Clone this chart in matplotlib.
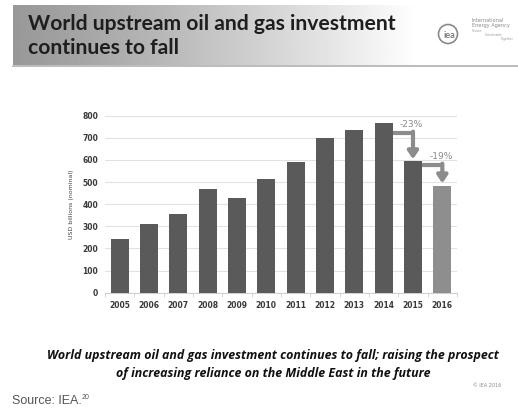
import numpy as np
import matplotlib
matplotlib.use("Agg")
import matplotlib.pyplot as plt
from matplotlib.patches import Circle

# data
years = ["2005", "2006", "2007", "2008", "2009", "2010",
         "2011", "2012", "2013", "2014", "2015", "2016"]
investment = [243, 312, 356, 468, 430, 514, 590, 700, 736, 766, 593, 484]
changes = ["-23%", "-19%"]
y_ticks = [0, 100, 200, 300, 400, 500, 600, 700, 800]

W, H = 518, 415
fig = plt.figure(figsize=(W / 100, H / 100), dpi=100)
fig.patch.set_facecolor("white")


def fx(px):
    return px / W


def fy(py):
    return 1 - py / H


# header band with grey-to-white gradient
band = fig.add_axes([fx(13), fy(65), fx(505), (60) / H])
grad = np.linspace(0, 1, 256)
shade = 0.60 + 0.40 * np.clip(grad / 0.80, 0, 1) ** 1.2
band.imshow(np.vstack([shade, shade]), cmap="gray", vmin=0, vmax=1,
            aspect="auto", extent=[0, 1, 0, 1])
band.set_xlim(0, 1)
band.set_ylim(0, 1)
band.axis("off")
fig.add_artist(plt.Line2D([fx(13), fx(518)], [fy(66), fy(66)],
                          color="#b0b0b0", lw=1.2))

fig.text(fx(28), fy(24), "World upstream oil and gas investment",
         fontsize=15.2, fontweight="bold", family="Lato", color="#1e1e1e",
         va="center", ha="left")
fig.text(fx(28), fy(48), "continues to fall",
         fontsize=15.2, fontweight="bold", family="Lato", color="#1e1e1e",
         va="center", ha="left")

# IEA logo
logo = fig.add_axes([0, 0, 1, 1], facecolor="none")
logo.set_xlim(0, W)
logo.set_ylim(H, 0)
logo.axis("off")
logo.add_patch(Circle((448, 34), 9.5, fill=False, ec="#8a8a8a", lw=1.2))
logo.text(449, 36, "iea", fontsize=6.5, color="#7a7a7a", ha="center",
          va="center", family="Lato", fontweight="bold")
logo.text(472, 20, "International", fontsize=3.6, color="#8a8a8a",
          ha="left", va="center")
logo.text(472, 26, "Energy Agency", fontsize=3.6, color="#8a8a8a",
          ha="left", va="center")
logo.text(472, 31, "Secure", fontsize=2.2, color="#9a9a9a", ha="left", va="center")
logo.text(485, 35, "Sustainable", fontsize=2.2, color="#9a9a9a", ha="left", va="center")
logo.text(500, 39, "Together", fontsize=2.2, color="#9a9a9a", ha="left", va="center")

# bar chart
ax = fig.add_axes([fx(105), fy(292.7), fx(457 - 105), (292.7 - 115.7) / H])
x = np.arange(len(years))
colors = ["#5a5a5a"] * (len(years) - 1) + ["#8e8e8e"]
ax.bar(x, investment, width=0.62, color=colors, zorder=3)
ax.set_xlim(-0.5, len(years) - 0.5)
ax.set_ylim(0, 800)
ax.set_yticks(y_ticks)
ax.set_xticks(x)
ax.set_xticklabels(years)
ax.set_xticks(np.arange(-0.5, len(years)), minor=True)
ax.grid(axis="y", color="#e2e2e2", lw=0.8, zorder=0)
for s in ["top", "right", "left"]:
    ax.spines[s].set_visible(False)
ax.spines["bottom"].set_color("#d0d0d0")
ax.tick_params(axis="y", length=0, labelsize=5.5, labelcolor="#3a3a3a", pad=5)
ax.tick_params(axis="x", which="major", length=0, labelsize=5.5,
               labelcolor="#3a3a3a", pad=6)
ax.tick_params(axis="x", which="minor", length=3, color="#d0d0d0")
for lab in ax.get_xticklabels() + ax.get_yticklabels():
    lab.set_fontweight("bold")
ax.set_ylabel("USD billions (nominal)", fontsize=4.5, color="#444444",
              labelpad=6)

# elbow arrows for the falls
arrow_col = "#8c8c8c"
for k, lab in zip([9, 10], changes):
    top = investment[k] * 0.94 if k == 9 else investment[k] * 0.97
    ax.plot([k + 0.31, k + 1], [top, top], color=arrow_col, lw=3.0,
            solid_capstyle="butt", zorder=4)
    ax.annotate("", xy=(k + 1, investment[k + 1] + 10), xytext=(k + 1, top + 8),
                arrowprops=dict(arrowstyle="-|>,head_width=0.3,head_length=0.45",
                                color=arrow_col, lw=3.0, shrinkA=0, shrinkB=0),
                zorder=4)
    ax.text(k + 0.95, top + 42, lab, fontsize=6.5, color="#8a8a8a",
            ha="center", va="center", clip_on=False)

# caption and source
cap_font = dict(fontsize=8.9, fontweight="bold", style="italic", family="Open Sans",
                color="#111111", ha="center", va="center")
fig.text(fx(273), fy(355), "World upstream oil and gas investment continues to fall; "
         "raising the prospect", **cap_font)
fig.text(fx(273), fy(373), "of increasing reliance on the Middle East in the future",
         **cap_font)
fig.text(fx(501), fy(385), "\u00a9 IEA 2016", fontsize=3.5, color="#8a8a8a",
         ha="right", va="center")
fig.text(fx(12), fy(401), "Source: IEA.", fontsize=9, family="Liberation Sans",
         color="#555555", ha="left", va="center")
fig.text(fx(82), fy(397), "20", fontsize=5, family="Liberation Sans",
         color="#555555", ha="left", va="center")

fig.savefig("out.png", dpi=100, facecolor="white")
